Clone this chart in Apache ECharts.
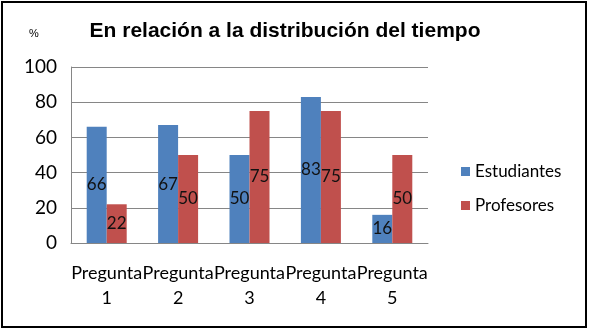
<!DOCTYPE html>
<html>
<head>
<meta charset="utf-8">
<script src="https://cdn.jsdelivr.net/npm/echarts@6/dist/echarts.min.js"></script>
<style>
  html, body { margin: 0; padding: 0; background: #fff; }
  #chart { width: 589px; height: 331px; }
</style>
</head>
<body>
<div id="chart"></div>
<script>
const categories = ["Pregunta\n1", "Pregunta\n2", "Pregunta\n3", "Pregunta\n4", "Pregunta\n5"];
const estudiantes = [66, 67, 50, 83, 16];
const profesores = [22, 50, 75, 75, 50];
const yTicks = [0, 20, 40, 60, 80, 100];

const body_font = "Lato, 'Open Sans', sans-serif";

const label_style = {
  show: true,
  position: "inside",
  color: "#111",
  fontSize: 17,
  fontFamily: body_font
};

const chart = echarts.init(document.getElementById("chart"));
chart.setOption({
  animation: false,
  backgroundColor: "#fff",
  title: {
    text: "En relación a la distribución del tiempo",
    left: 280,
    top: 16,
    textAlign: "center",
    textStyle: {
      fontFamily: "'Liberation Sans', Arial, sans-serif",
      fontWeight: "bold",
      fontSize: 21,
      color: "#000"
    }
  },
  legend: {
    orient: "vertical",
    left: 456,
    top: 158,
    itemWidth: 9,
    itemHeight: 9,
    itemGap: 17,
    icon: "rect",
    textStyle: { fontFamily: body_font, fontSize: 17, color: "#000" },
    data: ["Estudiantes", "Profesores"]
  },
  grid: { left: 71, right: 161, top: 67, bottom: 88 },
  xAxis: {
    type: "category",
    data: categories,
    axisTick: { show: false },
    axisLine: { lineStyle: { color: "#868686" } },
    axisLabel: {
      interval: 0,
      margin: 18,
      fontFamily: body_font,
      fontSize: 18,
      color: "#000",
      lineHeight: 25
    }
  },
  yAxis: {
    type: "value",
    min: yTicks[0],
    max: yTicks[yTicks.length - 1],
    interval: 20,
    axisLine: { show: true, lineStyle: { color: "#868686" } },
    axisTick: { show: false },
    splitLine: { lineStyle: { color: "#868686" } },
    axisLabel: { fontFamily: body_font, fontSize: 19, color: "#000", margin: 14 }
  },
  graphic: [
    {
      type: "rect",
      shape: { x: 2, y: 2, width: 584, height: 325 },
      style: { fill: null, stroke: "#000", lineWidth: 2 },
      silent: true
    },
    {
      type: "text",
      left: 29,
      top: 28,
      style: { text: "%", fontSize: 11, fontFamily: "'Liberation Sans', Arial", fill: "#000" }
    }
  ],
  series: [
    {
      name: "Estudiantes",
      type: "bar",
      data: estudiantes,
      barWidth: 20,
      barGap: "0%",
      itemStyle: { color: "#4F81BD" },
      label: label_style
    },
    {
      name: "Profesores",
      type: "bar",
      data: profesores,
      barWidth: 20,
      itemStyle: { color: "#C0504D" },
      label: label_style
    }
  ]
});
</script>
</body>
</html>
